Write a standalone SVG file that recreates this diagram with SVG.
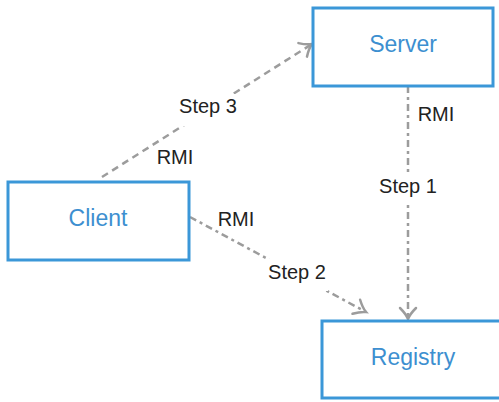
<svg xmlns="http://www.w3.org/2000/svg" width="499" height="402" viewBox="0 0 499 402">
<style>
.node rect{fill:#ffffff;stroke:#3b97d8;stroke-width:3}
.node text{font-family:"Liberation Sans",Arial,sans-serif;font-size:23px;fill:#3d8fd0;text-anchor:middle}
.edge{fill:none;stroke:#9c9c9c;stroke-width:2.5}
.dash{stroke-dasharray:7 5}
.dashdot{stroke-dasharray:7 4 3 4}
.lbl{font-family:"Liberation Sans",Arial,sans-serif;font-size:20px;fill:#222222}
.bg{fill:#ffffff}
</style>
<defs>
<marker id="open" markerUnits="userSpaceOnUse" markerWidth="30" markerHeight="30" refX="0" refY="0" viewBox="-15 -15 30 30" orient="auto" overflow="visible">
<path d="M -11 -8 Q -5 -2 0 0 Q -5 2 -11 8" fill="none" stroke="#9c9c9c" stroke-width="2.5" stroke-linecap="round"/>
</marker>
</defs>
<g id="connectors">
<path id="e-step3" class="edge dash" d="M 102 177 L 312 44" marker-end="url(#open)"/>
<path id="e-step1" class="edge dashdot" d="M 408 86 L 408 319" marker-end="url(#open)"/>
<path id="e-step2" class="edge dashdot" d="M 190 217 L 366 312" marker-end="url(#open)"/>
<rect class="bg" x="176" y="94" width="64" height="32"/>
<rect class="bg" x="376" y="176" width="64" height="26"/>
<rect class="bg" x="266" y="259" width="62" height="32"/>
<text class="lbl" x="208" y="113" text-anchor="middle">Step 3</text>
<text class="lbl" x="175" y="164" text-anchor="middle">RMI</text>
<text class="lbl" x="436" y="121" text-anchor="middle">RMI</text>
<text class="lbl" x="408" y="193" text-anchor="middle">Step 1</text>
<text class="lbl" x="236" y="226" text-anchor="middle">RMI</text>
<text class="lbl" x="297" y="279" text-anchor="middle">Step 2</text>
</g>
<g id="server" class="node">
<rect x="313" y="8" width="180" height="78"/>
<text x="403" y="52">Server</text>
</g>
<g id="client" class="node">
<rect x="8" y="182" width="181" height="78"/>
<text x="98" y="226">Client</text>
</g>
<g id="registry" class="node">
<rect x="322" y="321" width="180" height="77"/>
<text x="413" y="365">Registry</text>
</g>
</svg>
